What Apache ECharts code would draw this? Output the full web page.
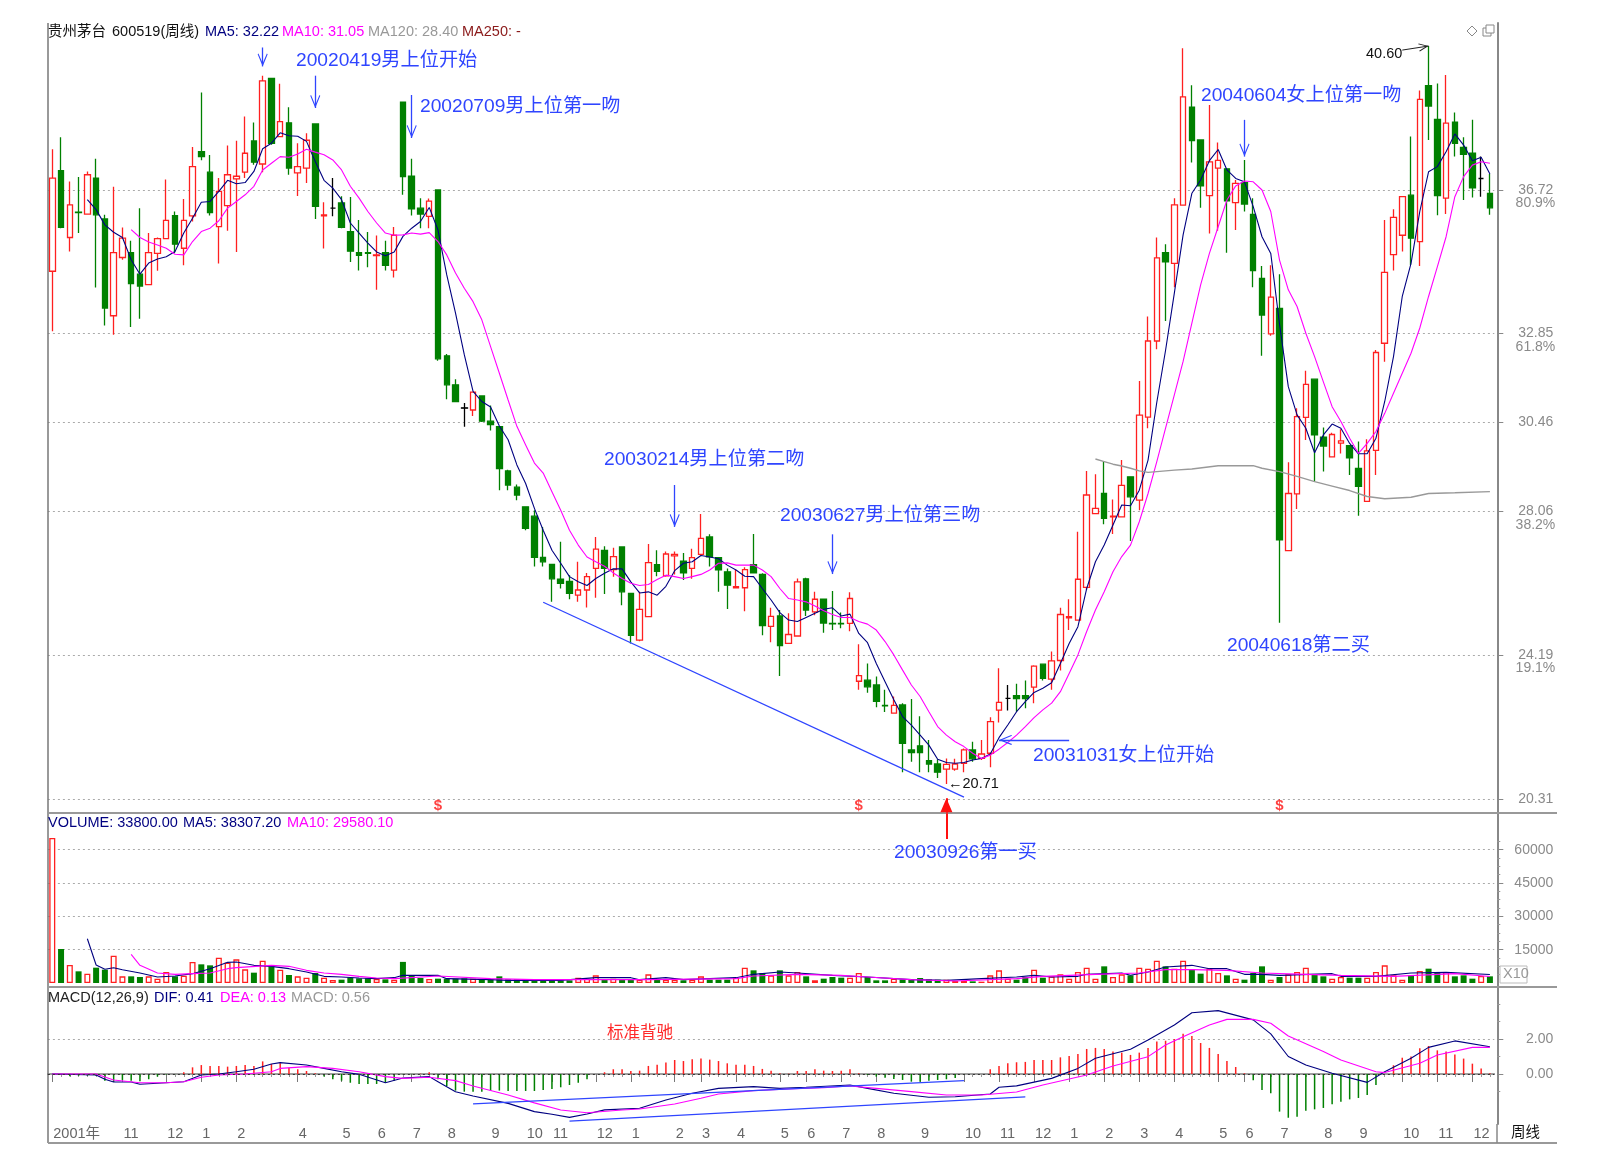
<!DOCTYPE html>
<html><head><meta charset="utf-8">
<style>html,body{margin:0;padding:0;background:#fff}#c{width:1607px;height:1153px}</style>
<script src="https://cdn.jsdelivr.net/npm/echarts@6/dist/echarts.min.js"></script>
</head><body><div id="c"></div>
<script>
const opens = [
34.53,37.24,35.44,36.12,36.07,37.04,35.94,33.33,34.90,35.03,
34.45,34.17,35.01,35.41,36.03,35.15,36.02,37.75,37.20,35.73,
36.30,37.02,37.20,38.04,37.42,39.73,38.16,38.53,37.18,37.31,
38.50,36.02,36.23,36.37,35.60,35.03,35.03,34.95,35.03,34.56,
39.09,37.09,36.23,36.01,36.72,32.25,31.47,30.85,30.79,31.17,
30.49,30.34,29.15,28.71,28.18,27.93,26.82,26.63,26.23,26.17,
25.80,25.94,26.52,27.01,26.49,27.10,25.85,24.59,25.22,26.62,
26.32,26.86,26.72,26.52,26.90,27.37,26.81,26.43,26.00,26.00,
26.62,26.36,24.96,25.24,24.50,24.70,26.24,25.35,25.69,25.04,
25.04,25.04,23.48,23.51,23.38,22.83,22.62,22.84,21.63,21.74,
21.34,21.25,21.11,21.11,21.27,21.63,21.40,21.54,22.70,23.02,
23.09,23.09,23.32,23.94,23.54,24.04,25.19,25.13,26.01,28.00,
28.54,27.91,27.91,28.99,28.36,30.60,32.65,35.03,34.74,36.31,
38.95,38.07,36.57,37.31,37.29,36.38,36.92,36.06,34.34,32.84,
33.53,27.00,28.53,30.59,31.62,30.06,29.53,29.90,29.83,29.22,
28.33,29.70,32.59,34.98,35.50,36.58,35.33,39.53,38.62,36.50,
38.55,37.87,37.71,37.03,36.63];
const closes = [
37.04,35.71,36.32,36.11,37.13,36.05,33.54,35.03,35.42,34.20,
34.13,35.03,35.41,35.90,35.26,35.90,37.35,37.62,36.11,36.68,
37.13,37.09,37.71,37.47,39.66,37.98,38.56,37.31,37.35,38.06,
36.28,36.05,36.23,35.71,35.07,34.96,35.01,34.97,34.69,35.50,
37.08,36.21,36.07,36.42,32.17,31.47,31.02,30.84,31.27,30.49,
30.40,29.21,28.77,28.50,27.60,26.82,26.70,26.24,26.12,25.85,
25.94,26.30,27.04,26.52,26.84,25.89,24.72,25.42,26.68,26.44,
26.91,26.90,26.40,26.81,27.33,26.83,26.48,26.07,26.03,26.49,
26.40,24.98,25.23,24.44,24.74,26.16,25.40,25.69,25.05,25.03,
25.03,25.71,23.63,23.33,22.94,22.82,22.83,21.81,21.56,21.56,
21.25,21.03,21.24,21.25,21.63,21.39,21.52,22.39,22.91,23.02,
23.01,23.01,23.89,23.56,24.03,25.28,25.22,26.23,28.50,28.14,
27.87,27.93,28.76,28.45,30.65,32.65,34.89,34.78,36.32,39.23,
38.05,36.83,37.48,37.52,36.43,36.90,36.34,34.55,33.35,33.83,
27.29,28.54,30.61,31.48,30.12,29.82,30.13,29.96,29.50,28.73,
29.69,32.34,34.50,35.98,36.54,35.42,39.16,38.98,36.57,38.52,
37.98,37.68,36.78,37.03,36.24];
const lows = [
32.91,35.69,35.06,35.56,36.05,34.09,33.07,32.82,34.84,33.03,
33.25,34.15,34.54,35.41,35.02,34.69,35.87,37.52,36.03,34.74,
35.62,35.05,37.04,37.40,37.20,37.94,38.14,37.13,36.56,36.91,
35.94,35.14,36.01,35.69,34.78,34.55,34.64,34.03,34.55,34.36,
36.59,36.03,35.69,35.69,32.12,31.08,31.00,30.34,30.63,30.47,
30.24,28.63,28.63,28.36,27.55,26.57,26.57,25.62,25.98,25.69,
25.62,25.47,25.73,25.83,26.30,25.53,24.50,24.56,25.22,26.31,
26.30,26.36,26.21,26.24,26.87,26.57,25.89,25.43,26.00,25.37,
26.39,24.72,24.53,23.62,24.50,24.70,25.24,25.26,24.79,24.86,
24.91,24.83,23.25,23.17,22.78,22.65,22.62,21.03,21.31,21.03,
21.03,20.87,20.71,21.07,21.03,21.31,21.36,21.16,22.37,22.69,
22.66,22.75,22.89,23.50,23.25,23.77,24.86,25.13,25.94,28.00,
27.71,27.45,27.91,27.26,28.09,30.30,32.43,33.19,34.10,36.31,
37.46,36.24,35.55,35.62,35.03,35.64,36.14,34.10,32.25,32.79,
25.06,27.00,28.12,29.98,28.86,29.13,29.53,29.62,29.04,27.94,
28.33,29.04,32.09,34.55,35.06,34.70,34.67,38.07,36.04,36.07,
37.62,36.45,36.52,36.54,36.05];
const highs = [
37.82,38.14,36.95,37.07,37.22,37.56,36.05,36.81,35.71,35.35,
36.23,35.56,35.44,37.00,36.14,36.48,37.88,39.35,37.66,37.04,
37.92,38.05,38.70,38.54,39.80,39.73,39.58,38.95,37.98,38.25,
38.50,36.39,37.04,36.55,36.53,35.91,35.59,35.49,35.35,35.72,
39.09,37.56,36.50,36.49,36.72,32.30,31.62,30.98,31.29,31.18,
30.91,30.34,29.18,28.78,28.20,28.09,27.64,26.63,27.24,26.34,
26.70,26.40,27.37,27.12,27.08,27.12,25.85,25.89,27.18,27.01,
26.98,26.98,26.94,27.05,27.99,27.44,26.81,26.52,26.49,26.55,
27.45,26.39,25.46,25.40,25.31,26.25,26.27,25.89,25.69,25.91,
25.33,25.88,24.48,23.96,23.61,23.25,23.07,22.89,23.00,22.54,
21.90,21.38,21.40,21.39,21.67,21.85,21.90,22.51,23.83,23.38,
23.41,23.50,23.91,23.94,24.28,25.46,25.69,27.51,29.15,29.06,
29.40,28.38,29.44,28.99,31.57,33.31,35.44,35.26,36.50,40.54,
39.54,38.07,39.01,38.00,37.29,36.99,37.53,36.50,34.67,34.69,
34.45,29.38,30.84,31.85,31.62,30.32,30.18,30.27,29.83,29.94,
30.00,32.41,35.91,36.20,36.54,38.16,39.40,40.60,39.59,39.82,
38.81,38.14,38.61,37.62,37.15];
const blackDojis = [32,47,109,163];

const ma5Start = 4;
const ma5 = [
36.46,36.19,35.78,35.58,35.44,34.84,
34.45,34.75,34.86,34.92,35.06,35.56,35.96,36.39,36.41,36.68,
36.98,36.89,36.92,37.22,37.83,37.98,38.26,38.18,38.17,38.03,
37.49,36.98,36.77,36.46,35.83,35.56,35.29,35.05,34.95,35.05,
35.47,35.69,35.87,36.25,35.64,34.43,33.40,32.28,31.29,31.02,
30.87,30.36,29.99,29.31,28.81,28.14,27.55,27.01,26.66,26.30,
26.16,26.06,26.25,26.39,26.51,26.51,26.16,25.86,25.89,25.80,
26.04,26.46,26.66,26.70,26.87,26.83,26.78,26.61,26.48,26.31,
26.30,25.98,25.67,25.33,25.13,25.09,25.20,25.31,25.42,25.46,
25.24,25.29,24.77,24.52,23.96,23.47,22.98,22.53,22.30,22.03,
21.76,21.38,21.29,21.27,21.29,21.36,21.40,21.52,21.96,22.30,
22.66,22.93,23.18,23.29,23.44,23.96,24.50,24.95,25.98,26.70,
27.15,27.69,28.23,28.21,28.63,29.44,31.0,32.4,33.94,35.51,
36.63,36.99,37.51,37.81,37.26,37.03,36.94,36.27,35.46,35.01,
33.1,31.42,30.66,30.30,29.64,30.12,30.41,30.30,29.89,29.61,
29.61,30.03,31.02,32.23,33.85,34.74,36.14,37.21,37.35,37.75,
38.23,37.93,37.51,37.60,37.15];
const ma10Start = 9;
const ma10 = [
35.65,
35.44,35.32,35.24,35.15,34.99,34.97,35.33,35.60,35.69,35.89,
36.23,36.41,36.59,36.82,37.26,37.44,37.62,37.60,37.69,37.82,
37.74,37.67,37.53,37.26,36.82,36.50,36.14,35.83,35.56,35.50,
35.51,35.56,35.53,35.57,35.33,34.97,34.48,34.07,33.71,33.22,
32.50,31.78,31.06,30.35,29.85,29.36,29.09,28.59,28.09,27.55,
27.15,26.83,26.70,26.58,26.40,26.25,26.12,26.06,26.09,26.22,
26.34,26.30,26.25,26.30,26.36,26.48,26.66,26.67,26.61,26.61,
26.61,26.48,26.30,25.98,25.71,25.67,25.62,25.51,25.38,25.28,
25.20,25.20,25.09,25.02,24.86,24.55,24.19,23.78,23.38,23.07,
22.66,22.26,22.03,21.85,21.72,21.54,21.40,21.49,21.65,21.83,
22.03,22.26,22.50,22.71,22.89,23.20,23.69,24.19,24.82,25.40,
25.89,26.43,26.84,27.15,27.78,28.54,29.4,30.3,31.2,32.1,
33.13,34.16,35.01,35.73,36.45,36.83,36.96,36.94,36.72,36.14,
34.83,34.03,33.58,32.86,32.23,31.55,30.88,30.48,30.03,29.62,
29.89,30.21,30.70,31.24,31.78,32.32,33.0,33.85,34.65,35.46,
36.54,37.08,37.39,37.48,37.44];
const ma120Readings = [[119,29.47],[120,29.40],[121,29.33],[122,29.28],[123,29.22],[124,29.15],[125,29.11],[128,29.17],[130,29.20],[133,29.29],[137,29.29],[138,29.22],[140,29.13],[142,29.00],[144,28.86],[146,28.74],[148,28.62],[150,28.46],[152,28.40],[155,28.44],[157,28.54],[160,28.56],[164,28.59]];

const volume = [
65300,15300,8100,5250,4200,6900,6000,12300,3000,3000,
2700,3000,1950,4950,3000,3300,9450,8400,7950,11400,
9100,10650,6150,4650,10050,7500,6000,3600,3000,2400,
4500,2400,1350,1500,2400,2100,2100,1800,1650,1500,
9500,3450,2250,1800,1950,1950,1950,2100,1950,1800,
1650,3000,1650,1650,1650,1800,1200,1200,1200,1200,
2400,1950,3450,1500,1950,1500,1500,1500,3900,1800,
1500,1500,1200,1500,3000,1500,1500,1500,2400,6900,
5700,4500,3450,5700,3450,4950,3000,1200,1950,2700,
2400,2400,4500,2700,1200,1200,1950,1500,1500,2250,
1650,1500,1500,900,900,750,600,3450,5700,1950,
1500,2700,6000,2400,3000,3900,1950,4950,6900,1950,
7500,2700,3900,3450,6900,6450,10000,7500,6450,10000,
6000,4200,6450,4500,3450,1950,1500,4500,7500,1500,
2700,3900,4950,6900,3900,3000,1950,2700,2400,2400,
2400,4950,7950,3450,1500,3450,5400,6450,4950,4950,
3000,3450,1950,3150,3000];
const volMa5Readings = [[4,19900],[5,8100],[6,6200],[7,6900],[8,6000],[10,4500],[12,2700],[14,3150],[16,4200],[18,6450],[20,9300],[21,9450],[23,7950],[25,7500],[27,6450],[29,4950],[31,3000],[33,2700],[35,2250],[37,1950],[39,2400],[40,3450],[44,3450],[45,1950],[50,1500],[52,1200],[58,1200],[62,2400],[66,2400],[67,1500],[70,2400],[72,1500],[78,2400],[80,3900],[83,4950],[85,4500],[89,3450],[93,2700],[98,1500],[102,1200],[106,1950],[110,2700],[112,3450],[114,2700],[117,3000],[118,3900],[122,4500],[123,3450],[125,4950],[127,7200],[130,7950],[132,6450],[134,6450],[136,3900],[138,3900],[140,3450],[146,4200],[147,3000],[151,3000],[155,4500],[159,4800],[164,3830]];
const volMa10Readings = [[9,12900],[10,7950],[12,4500],[14,3900],[16,4200],[18,4500],[20,6450],[21,6900],[25,7950],[27,7500],[29,5700],[31,4500],[33,3900],[35,3000],[37,2250],[39,1950],[44,3150],[50,1950],[55,1500],[61,1500],[68,1500],[78,1950],[80,3150],[85,3900],[90,3450],[93,2700],[98,1500],[103,900],[110,1950],[113,3000],[119,3900],[124,4500],[127,6000],[130,6000],[134,5700],[138,4500],[143,3900],[147,3450],[153,3000],[160,4200],[164,2958]];

const macdHist = [
0,-0.06,-0.13,-0.1,-0.1,-0.12,-0.38,-0.46,-0.34,-0.38,
-0.42,-0.30,-0.15,-0.03,-0.02,0.10,0.38,0.51,0.46,0.46,
0.42,0.46,0.51,0.46,0.72,0.57,0.61,0.36,0.27,0.17,
0.04,-0.15,-0.30,-0.38,-0.50,-0.57,-0.57,-0.57,-0.50,-0.38,
-0.02,-0.02,0.02,0.10,-0.30,-0.69,-0.95,-1.01,-1.01,-1.01,
-0.97,-0.95,-0.97,-0.97,-0.97,-0.97,-0.91,-0.86,-0.76,-0.63,
-0.50,-0.30,0,0.10,0.27,0.27,0.17,0.19,0.46,0.53,
0.65,0.80,0.74,0.84,0.88,0.82,0.74,0.61,0.53,0.53,
0.46,0.29,0.19,0.04,0.02,0.17,0.17,0.27,0.19,0.17,
0.19,0.27,0.04,-0.06,-0.15,-0.21,-0.29,-0.34,-0.44,-0.44,
-0.38,-0.34,-0.30,-0.23,-0.06,0,0,0.27,0.46,0.61,
0.67,0.69,0.80,0.80,0.80,0.95,1.03,1.14,1.43,1.49,
1.43,1.28,1.22,1.09,1.22,1.49,1.85,1.90,2.00,2.30,
2.17,1.77,1.49,1.14,0.74,0.40,0.04,-0.36,-0.91,-1.10,
-2.15,-2.50,-2.44,-2.10,-2.02,-1.94,-1.73,-1.58,-1.45,-1.37,
-1.20,-0.63,0,0.50,0.93,1.00,1.47,1.60,1.35,1.28,
1.12,0.88,0.59,0.32,0.04];
const difReadings = [[0,0],[5,-0.06],[6,-0.30],[7,-0.46],[9,-0.46],[10,-0.59],[12,-0.53],[15,-0.44],[17,-0.06],[19,0],[21,0.13],[23,0.27],[25,0.57],[26,0.65],[29,0.51],[31,0.32],[33,0.13],[35,-0.02],[38,-0.50],[40,-0.23],[43,-0.15],[44,-0.44],[46,-1.01],[48,-1.26],[52,-1.68],[55,-2.15],[57,-2.30],[59,-2.48],[61,-2.29],[63,-2.05],[67,-1.96],[70,-1.49],[73,-1.10],[76,-0.82],[80,-0.72],[83,-0.82],[86,-0.76],[91,-0.63],[93,-0.82],[96,-1.10],[100,-1.33],[103,-1.30],[107,-1.14],[108,-0.76],[110,-0.68],[114,-0.25],[117,0.32],[119,0.90],[123,1.41],[125,1.94],[128,2.80],[130,3.50],[133,3.62],[137,3.09],[139,2.29],[141,1.00],[143,0.51],[146,0.04],[150,-0.48],[152,0.13],[155,0.90],[157,1.52],[160,1.89],[164,1.56]];
const deaReadings = [[0,0],[5,0],[7,-0.34],[10,-0.50],[13,-0.50],[15,-0.44],[17,-0.19],[19,-0.06],[22,0],[25,0.13],[26,0.32],[29,0.42],[32,0.32],[35,0.13],[38,-0.15],[40,-0.25],[43,-0.19],[46,-0.38],[48,-0.69],[52,-1.20],[55,-1.65],[58,-2.06],[61,-2.21],[65,-2.06],[67,-2.00],[71,-1.71],[74,-1.39],[76,-1.14],[80,-0.95],[84,-0.86],[88,-0.78],[91,-0.69],[94,-0.82],[98,-1.01],[102,-1.20],[106,-1.20],[110,-1.03],[113,-0.63],[118,-0.06],[121,0.46],[125,0.99],[127,1.66],[129,2.13],[132,2.80],[134,3.12],[137,3.12],[139,2.90],[141,2.17],[145,1.28],[147,0.80],[151,0.13],[152,0.08],[156,0.61],[158,1.09],[162,1.52],[164,1.52]];

const priceTicks = [36.72,32.85,30.46,28.06,24.19,20.31];
const percentLabels = {36.72:'80.9%',32.85:'61.8%',28.06:'38.2%',24.19:'19.1%'};
const volumeTicks = [60000,45000,30000,15000];
const volumeMinorTicks = [3750,7500,11250,18750,22500,26250,33750,37500,41250,48750,52500,56250,63750];
const macdTicks = [2,0];
const macdMinorTicks = [1,-1,3,4];
const monthTicks = [[0,'2001年'],[8,'11'],[13,'12'],[17,'1'],[21,'2'],[28,'4'],[33,'5'],[37,'6'],[41,'7'],[45,'8'],[50,'9'],[54,'10'],[57,'11'],[62,'12'],[66,'1'],[71,'2'],[74,'3'],[78,'4'],[83,'5'],[86,'6'],[90,'7'],[94,'8'],[99,'9'],[104,'10'],[108,'11'],[112,'12'],[116,'1'],[120,'2'],[124,'3'],[128,'4'],[133,'5'],[136,'6'],[140,'7'],[145,'8'],[149,'9'],[154,'10'],[158,'11'],[162,'12']];
const dividendWeeks = [44,92,140];
const dividendLevel = 20.12;

// annotation arrows: [week, from price, to price]
const downArrows = [[24,40.56,40.05],[30,39.80,38.93],[41,39.28,38.12],[71,28.77,27.64],[89,27.44,26.37],[136,38.61,37.62]];
const femaleStartArrow = [[116,21.90],[108,21.90]];
const highArrow = [[154,40.49],[157,40.60]];
const priceTrend = [[56,25.61],[104,20.36]];
const macdTrendUpper = [[48,-1.71],[104,-0.38]];
const macdTrendLower = [[59,-2.69],[111,-1.31]];
const firstBuyWeek = 102, firstBuyHead = 20.33, firstBuyVolTail = 64800;

const N = opens.length;
const weeks = opens.map((_, i) => 'W' + i);
const monthMap = new Map(monthTicks);
const FONT = "'Liberation Sans','Noto Sans CJK SC',sans-serif";
const RED='#ff2020', GREEN='#008000', NAVY='#000080', MAG='#ff00ff', GRAY='#8a8a8a', BLUE='#2f45ff';
const CHEV='path://M0 -17L0.01 -17Z M0 0L10 16L8.4 17L0 4L-8.4 17L-10 16Z';
const HEAD='path://M0 -14L0.01 -14Z M0 0L7 14L-7 14Z';

const candleData = opens.map((o,i)=>{
  const v=[o,closes[i],lows[i],highs[i]];
  if(blackDojis.includes(i)) return {value:v,itemStyle:{color:'#000',color0:'#000',borderColor:'#000',borderColor0:'#000'}};
  return v;
});
const volData = volume.map((v,i)=> closes[i]>=opens[i]
  ? {value:v,itemStyle:{color:'#fff',borderColor:RED,borderWidth:1.3}}
  : {value:v,itemStyle:{color:GREEN,borderColor:GREEN,borderWidth:0}});
const fromStart=(arr,s)=>arr.map((v,i)=>[i+s,v]);

function mlLine(a,b,color,width,toSym,toSize){
  const ls={color,width,type:'solid',opacity:1};
  return [{coord:a,symbol:'none',lineStyle:ls},{coord:b,symbol:toSym||'none',symbolSize:toSize||4,lineStyle:ls}];
}
const mainMarks = [
  ...downArrows.map(a=>mlLine([a[0],a[1]],[a[0],a[2]],BLUE,1.3,CHEV,[10,26])),
  mlLine(femaleStartArrow[0],femaleStartArrow[1],BLUE,1.3,CHEV,[10,26]),
  mlLine(highArrow[0],highArrow[1],'#222',1,CHEV,[8,20]),
  mlLine(priceTrend[0],priceTrend[1],BLUE,1.3),
  mlLine([firstBuyWeek,19.94],[firstBuyWeek,firstBuyHead],'#ff1010',2,HEAD,[12,28])
];

const priceMin=19.93, priceMax=41.22, percentDrop=0.36;
const dotted={show:true,lineStyle:{color:'#aaa',type:[2,3],width:1}};
const sideLine={show:true,lineStyle:{color:'#888',width:2}};
const sideLabel=(vals,fmt)=>({show:true,customValues:vals,formatter:fmt,color:'#8a8a8a',fontSize:14,fontFamily:FONT,align:'right',margin:56});
const sideTick=(vals)=>({show:true,customValues:vals,length:6,lineStyle:{color:'#888'}});
const minorAxis=(g,min,max,vals)=>({type:'value',gridIndex:g,position:'right',offset:3,min,max,axisLine:{show:false},splitLine:{show:false},
   axisLabel:{show:false},axisTick:{show:true,customValues:vals,length:3,lineStyle:{color:'#999'}}});

const grids=[
 {left:47.9,width:1446.4,top:23,height:790},
 {left:47.9,width:1446.4,top:813,height:174},
 {left:47.9,width:1446.4,top:987,height:137}
];
const hiddenX=(g)=>({type:'category',gridIndex:g,data:weeks,axisLine:{show:false},axisTick:{show:false},axisLabel:{show:false},splitLine:{show:false}});

const headerRows=[
 [48,32,'贵州茅台','#111'],[112,32,'600519(周线)','#111'],[205,32,'MA5: 32.22',NAVY],[282,32,'MA10: 31.05',MAG],[368,32,'MA120: 28.40','#999'],[462,32,'MA250: -','#8b1a1a'],
 [48,823,'VOLUME: 33800.00',NAVY],[183,823,'MA5: 38307.20',NAVY],[287,823,'MA10: 29580.10',MAG],
 [48,998,'MACD(12,26,9)','#222'],[154,998,'DIF: 0.41',NAVY],[220,998,'DEA: 0.13',MAG],[291,998,'MACD: 0.56','#999'],
 [1366,54,'40.60','#111'],[948,784,'←20.71','#111'],[1511,1133,'周线','#111'],[1503,974,'X10','#999']
];
const noteRows=[
 [296,61,'20020419男上位开始'],[420,107,'20020709男上位第一吻'],[604,460,'20030214男上位第二吻'],[780,516,'20030627男上位第三吻'],
 [1033,756,'20031031女上位开始'],[1201,96,'20040604女上位第一吻'],[1227,646,'20040618第二买'],[894,853,'20030926第一买']
];
const gl=(x1,y1,x2,y2,c,w)=>({type:'line',shape:{x1,y1,x2,y2},style:{stroke:c,lineWidth:w},z:5,silent:true});
const graphics=[
 gl(48,23,48,1143,'#777',1.5),
 gl(48,813,1557,813,'#999',2),
 gl(48,987,1557,987,'#999',2),
 gl(48,1143,1557,1143,'#999',2),
 gl(1497,1124,1497,1143,'#888',1.5),
 ...headerRows.map(r=>({type:'text',x:r[0],y:r[1],z:50,silent:true,style:{text:r[2],fill:r[3],font:'14.5px '+FONT,verticalAlign:'middle',align:'left'}})),
 ...noteRows.map(r=>({type:'text',x:r[0],y:r[1],z:50,silent:true,style:{text:r[2],fill:BLUE,font:'19.2px '+FONT,verticalAlign:'middle',align:'left'}})),
 {type:'text',x:607,y:1033,z:50,silent:true,style:{text:'标准背驰',fill:'#ff2a2a',font:'16.5px '+FONT,verticalAlign:'middle',align:'left'}},
 {type:'rect',shape:{x:1500,y:966,width:27,height:17},z:40,silent:true,style:{fill:'#fff',stroke:'#bbb',lineWidth:1}},
 {type:'polygon',shape:{points:[[1472,26],[1477,31],[1472,36],[1467,31]]},z:40,silent:true,style:{fill:'none',stroke:'#888',lineWidth:1}},
 {type:'rect',shape:{x:1483,y:28,width:8,height:8},z:40,silent:true,style:{fill:'none',stroke:'#888',lineWidth:1}},
 {type:'rect',shape:{x:1486,y:25,width:8,height:8},z:40,silent:true,style:{fill:'#fff',stroke:'#888',lineWidth:1}}
];

const option={
 animation:false,backgroundColor:'#fff',tooltip:{show:false},legend:{show:false},
 grid:grids,
 graphic:graphics,
 xAxis:[hiddenX(0),hiddenX(1),
  {type:'category',gridIndex:2,position:'bottom',data:weeks,axisLine:{show:true,lineStyle:{color:'#999',width:1.5}},
   axisTick:{show:true,alignWithLabel:true,interval:0,length:3,lineStyle:{color:'#999'}},
   axisLabel:{show:false}},
  {type:'category',gridIndex:2,position:'bottom',data:weeks,axisLine:{show:true,lineStyle:{color:'#999',width:1.5}},
   axisTick:{show:true,alignWithLabel:true,interval:(i)=>monthMap.has(i),length:8,lineStyle:{color:'#777'}},
   axisLabel:{show:true,interval:(i)=>monthMap.has(i),hideOverlap:false,showMinLabel:true,formatter:(v,i)=>monthMap.get(i)||'',align:'left',margin:3,padding:[0,0,0,1],color:'#666',fontSize:14.5,fontFamily:FONT}}
 ],
 yAxis:[
  {type:'value',gridIndex:0,position:'right',offset:3,min:priceMin,max:priceMax,axisLine:sideLine,splitLine:dotted,
   axisTick:sideTick(priceTicks),axisLabel:sideLabel(priceTicks,v=>v.toFixed(2))},
  {type:'value',gridIndex:0,position:'right',offset:3,min:priceMin+percentDrop,max:priceMax+percentDrop,axisLine:{show:false},splitLine:{show:false},axisTick:{show:false},
   axisLabel:Object.assign(sideLabel(Object.keys(percentLabels).map(Number),v=>percentLabels[v.toFixed(2)]),{margin:58})},
  {type:'value',gridIndex:1,position:'right',offset:3,min:-1800,max:76500,axisLine:sideLine,splitLine:dotted,
   axisTick:sideTick(volumeTicks),axisLabel:sideLabel(volumeTicks,v=>String(v))},
  {type:'value',gridIndex:2,position:'right',offset:3,min:-2.857,max:4.97,axisLine:sideLine,splitLine:dotted,
   axisTick:sideTick(macdTicks),axisLabel:sideLabel(macdTicks,v=>v.toFixed(2))},
  minorAxis(1,-1800,76500,volumeMinorTicks),
  minorAxis(2,-2.857,4.97,macdMinorTicks)
 ],
 series:[
  {type:'candlestick',name:'K',xAxisIndex:0,yAxisIndex:0,data:candleData,barWidth:6,z:2,
   itemStyle:{color:'#fff',color0:GREEN,borderColor:RED,borderColor0:GREEN,borderWidth:1.3}},
  {type:'line',name:'MA5',xAxisIndex:0,yAxisIndex:0,data:fromStart(ma5,ma5Start),showSymbol:false,lineStyle:{color:NAVY,width:1.1},z:3},
  {type:'line',name:'MA10',xAxisIndex:0,yAxisIndex:0,data:fromStart(ma10,ma10Start),showSymbol:false,lineStyle:{color:MAG,width:1.1},z:3},
  {type:'line',name:'MA120',xAxisIndex:0,yAxisIndex:0,data:ma120Readings,showSymbol:false,lineStyle:{color:'#999',width:1.4},z:3},
  {type:'line',name:'notes',xAxisIndex:0,yAxisIndex:0,data:[],showSymbol:false,z:4,
   markLine:{silent:true,animation:false,label:{show:false},data:mainMarks,z:6}},
  {type:'scatter',name:'S',xAxisIndex:0,yAxisIndex:0,data:dividendWeeks.map(w=>[w,dividendLevel]),symbolSize:1,itemStyle:{color:'transparent'},z:6,
   label:{show:true,position:'inside',formatter:'$',color:'#ff1010',fontWeight:'bold',fontSize:15,fontFamily:FONT}},
  {type:'bar',name:'VOL',xAxisIndex:1,yAxisIndex:2,data:volData,barWidth:6,z:2,
   markLine:{silent:true,animation:false,label:{show:false},data:[mlLine([firstBuyWeek,firstBuyVolTail],[firstBuyWeek,76400],'#ff1010',2)]}},
  {type:'line',name:'VMA5',xAxisIndex:1,yAxisIndex:2,data:volMa5Readings,showSymbol:false,lineStyle:{color:NAVY,width:1.1},z:3},
  {type:'line',name:'VMA10',xAxisIndex:1,yAxisIndex:2,data:volMa10Readings,showSymbol:false,lineStyle:{color:MAG,width:1.1},z:3},
  {type:'bar',name:'MACD',xAxisIndex:2,yAxisIndex:3,data:macdHist,barWidth:1.5,z:2,
   itemStyle:{color:(p)=>p.value>=0?RED:GREEN},
   markLine:{silent:true,animation:false,symbol:'none',label:{show:false},data:[
     {yAxis:0,lineStyle:{color:'#333',type:[2,3],width:1}},
     mlLine(macdTrendUpper[0],macdTrendUpper[1],BLUE,1.3),
     mlLine(macdTrendLower[0],macdTrendLower[1],BLUE,1.3)]}},
  {type:'line',name:'DIF',xAxisIndex:2,yAxisIndex:3,data:difReadings,showSymbol:false,lineStyle:{color:NAVY,width:1.1},z:3},
  {type:'line',name:'DEA',xAxisIndex:2,yAxisIndex:3,data:deaReadings,showSymbol:false,lineStyle:{color:MAG,width:1.1},z:3}
 ]
};
const chart=echarts.init(document.getElementById('c'),null,{renderer:'canvas',width:1607,height:1153});
chart.setOption(option);
</script></body></html>
